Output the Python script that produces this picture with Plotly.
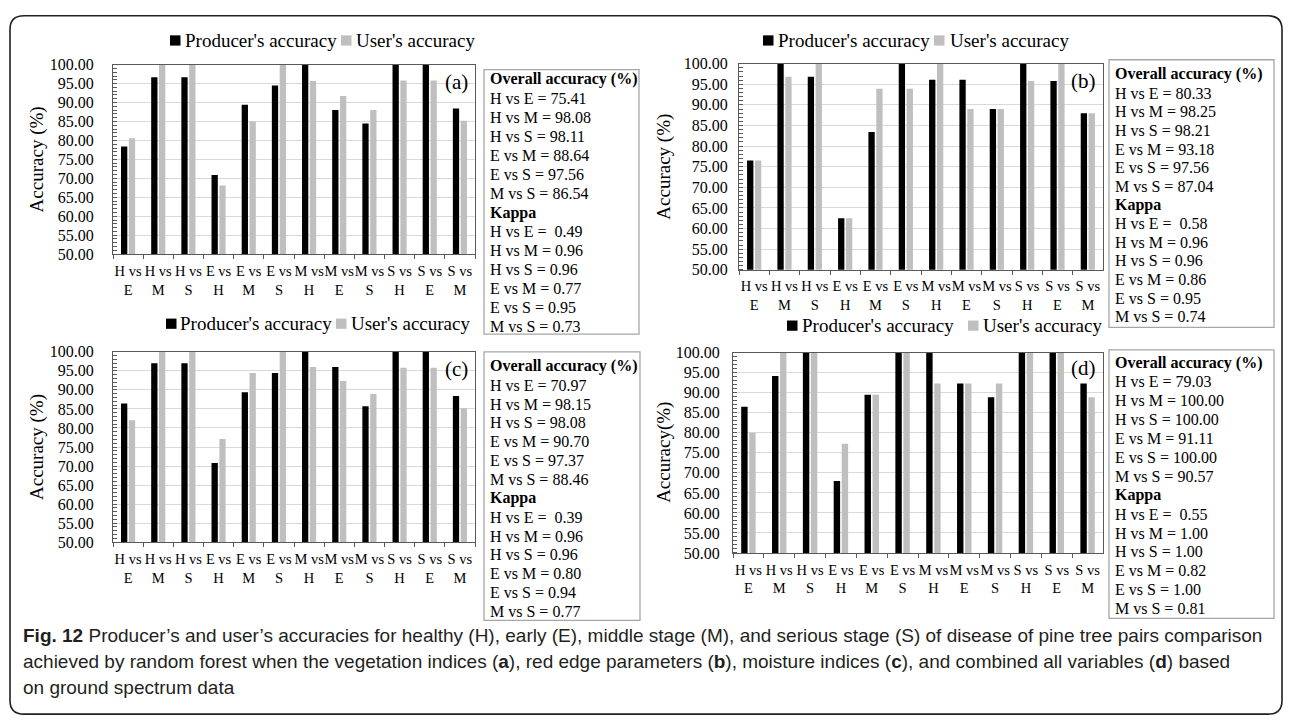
import plotly.graph_objects as go

W, H = 1292, 728
def px(x): return x / W
def py(y): return 1 - y / H

# ---------------- data ----------------
pairs = ["H vs E", "H vs M", "H vs S", "E vs H", "E vs M", "E vs S",
         "M vs H", "M vs E", "M vs S", "S vs H", "S vs E", "S vs M"]

producer_a = [78.4, 96.7, 96.7, 70.9, 89.4, 94.5, 100.0, 88.0, 84.5, 100.0, 100.0, 88.4]
user_a     = [80.6, 100.0, 100.0, 68.1, 85.0, 100.0, 95.7, 91.7, 88.0, 95.8, 95.8, 85.2]
producer_b = [76.5, 100.0, 96.8, 62.5, 83.4, 100.0, 96.1, 96.1, 89.0, 100.0, 95.8, 88.0]
user_b     = [76.5, 96.8, 100.0, 62.5, 93.9, 93.9, 100.0, 89.0, 89.0, 95.8, 100.0, 88.0]
producer_c = [86.4, 97.0, 97.0, 70.8, 89.4, 94.4, 100.0, 96.0, 85.7, 100.0, 100.0, 88.4]
user_c     = [82.0, 100.0, 100.0, 77.1, 94.4, 100.0, 96.0, 92.3, 88.9, 95.8, 95.8, 85.2]
producer_d = [86.5, 94.2, 100.0, 68.0, 89.5, 100.0, 100.0, 92.3, 88.9, 100.0, 100.0, 92.3]
user_d     = [80.0, 100.0, 100.0, 77.3, 89.5, 100.0, 92.3, 92.3, 92.3, 100.0, 100.0, 88.9]

summary_pairs = ["H vs E", "H vs M", "H vs S", "E vs M", "E vs S", "M vs S"]
overall_a = [75.41, 98.08, 98.11, 88.64, 97.56, 86.54]
overall_b = [80.33, 98.25, 98.21, 93.18, 97.56, 87.04]
overall_c = [70.97, 98.15, 98.08, 90.70, 97.37, 88.46]
overall_d = [79.03, 100.00, 100.00, 91.11, 100.00, 90.57]
kappa_a = [0.49, 0.96, 0.96, 0.77, 0.95, 0.73]
kappa_b = [0.58, 0.96, 0.96, 0.86, 0.95, 0.74]
kappa_c = [0.39, 0.96, 0.96, 0.80, 0.94, 0.77]
kappa_d = [0.55, 1.00, 1.00, 0.82, 1.00, 0.81]

y_ticks = [50, 55, 60, 65, 70, 75, 80, 85, 90, 95, 100]
series_names = ["Producer's accuracy", "User's accuracy"]
panel_labels = ["(a)", "(b)", "(c)", "(d)"]
y_titles = ["Accuracy (%)", "Accuracy (%)", "Accuracy (%)", "Accuracy(%)"]

caption_lines = [
    "<b>Fig. 12</b> Producer’s and user’s accuracies for healthy (H), early (E), middle stage (M), and serious stage (S) of disease of pine tree pairs comparison",
    "achieved by random forest when the vegetation indices (<b>a</b>), red edge parameters (<b>b</b>), moisture indices (<b>c</b>), and combined all variables (<b>d</b>) based",
    "on ground spectrum data",
]

# ---------------- layout geometry (pixels) ----------------
SERIF = "Liberation Serif, Times New Roman, serif"
BLACK = "#000000"
GRAY = "#BFBFBF"
SERIES_COLORS = [BLACK, GRAY]

panels = [
    dict(prod=producer_a, user=user_a, ov=overall_a, kp=kappa_a,
         x0=113, x1=475, y0=58, y1=252, lab=(470, 76),
         leg_y=33, leg_sq=(170, 341), leg_tx=(183, 354),
         ytitle_x=37, tls=15, xls=3,
         box=(484, 63, 639, 334), box_y=73, box_dy=19.5),
    dict(prod=producer_b, user=user_b, ov=overall_b, kp=kappa_b,
         x0=739, x1=1103, y0=57, y1=268, lab=(1098, 75),
         leg_y=33, leg_sq=(763, 934), leg_tx=(776, 948),
         ytitle_x=664, tls=7, xls=3,
         box=(1109, 53, 1274, 327), box_y=68, box_dy=19.1),
    dict(prod=producer_c, user=user_c, ov=overall_c, kp=kappa_c,
         x0=113, x1=475, y0=352, y1=547, lab=(470, 370),
         leg_y=323, leg_sq=(166, 336), leg_tx=(178, 349),
         ytitle_x=37, tls=15, xls=3,
         box=(484, 352, 640, 627), box_y=367, box_dy=19.3),
    dict(prod=producer_d, user=user_d, ov=overall_d, kp=kappa_d,
         x0=733, x1=1103, y0=353, y1=558, lab=(1098, 369),
         leg_y=325, leg_sq=(787, 968), leg_tx=(800, 981),
         ytitle_x=664, tls=9, xls=3,
         box=(1109, 350, 1274, 625), box_y=363, box_dy=19.4),
]

fig = go.Figure()
layout = dict(
    width=W, height=H, margin=dict(l=0, r=0, t=0, b=0),
    paper_bgcolor="white", plot_bgcolor="white",
    barmode="group", bargap=0.48, bargroupgap=0.2,
    font=dict(family=SERIF, color="#000", size=16),
    showlegend=False,
)
annotations = []
shapes = []

ticktext = [p.replace(" vs ", " vs<br>") for p in pairs]

for i, p in enumerate(panels):
    n = "" if i == 0 else str(i + 1)
    xa, ya = "x" + n, "y" + n
    fig.add_trace(go.Bar(x=pairs, y=p["prod"], name=series_names[0], marker_color=BLACK,
                         marker_line_width=0, xaxis=xa, yaxis=ya))
    fig.add_trace(go.Bar(x=pairs, y=p["user"], name=series_names[1], marker_color=GRAY,
                         marker_line_width=0, xaxis=xa, yaxis=ya))

    layout["xaxis" + n] = dict(
        domain=[px(p["x0"]), px(p["x1"])], anchor=ya,
        tickmode="array", tickvals=pairs, ticktext=ticktext, tickangle=0,
        ticks="outside", tickson="boundaries", ticklen=4, tickcolor="#595959",
        ticklabelstandoff=p["xls"],
        showline=True, linecolor="#595959", linewidth=1.3, mirror=True,
        tickfont=dict(family=SERIF, size=14.5, color="#000"),
        showgrid=False, fixedrange=True,
    )
    layout["yaxis" + n] = dict(
        domain=[py(p["y1"]), py(p["y0"])], anchor=xa,
        range=[50, 100], tickvals=y_ticks, tickformat=".2f",
        ticks="", ticklabelstandoff=p["tls"],
        showline=True, linecolor="#595959", linewidth=1.3, mirror=True,
        showgrid=True, gridcolor="#D9D9D9", gridwidth=1,
        minor=dict(dtick=1, ticks="inside", ticklen=4, tickcolor="#595959", showgrid=False),
        tickfont=dict(family=SERIF, size=16, color="#000"),
        zeroline=False, fixedrange=True,
    )
    # legend keys (square + label)
    for k in range(2):
        sx = p["leg_sq"][k]
        shapes.append(dict(type="rect", xref="paper", yref="paper",
                           x0=px(sx), x1=px(sx + 10.5), y0=py(p["leg_y"] + 5.5), y1=py(p["leg_y"] - 5),
                           line=dict(width=0), fillcolor=SERIES_COLORS[k]))
        annotations.append(dict(text=series_names[k], x=px(p["leg_tx"][k]), y=py(p["leg_y"]),
                                xref="paper", yref="paper", xanchor="left", yanchor="middle",
                                showarrow=False, font=dict(family=SERIF, size=19, color="#000")))
    # panel label
    annotations.append(dict(text=panel_labels[i], x=px(p["lab"][0]), y=py(p["lab"][1]),
                            xref="paper", yref="paper", xanchor="right", yanchor="middle",
                            showarrow=False, font=dict(family=SERIF, size=21, color="#000")))
    # y-axis title
    annotations.append(dict(text=y_titles[i], x=px(p["ytitle_x"]), y=py((p["y0"] + p["y1"]) / 2),
                            xref="paper", yref="paper", xanchor="center", yanchor="middle",
                            textangle=-90, showarrow=False,
                            font=dict(family=SERIF, size=19, color="#000")))
    # summary box
    bx0, by0, bx1, by1 = p["box"]
    shapes.append(dict(type="rect", xref="paper", yref="paper",
                       x0=px(bx0), x1=px(bx1), y0=py(by1), y1=py(by0),
                       line=dict(color="#A6A6A6", width=1.3), fillcolor="rgba(0,0,0,0)"))
    lines = ["<b>Overall accuracy (%)</b>"]
    lines += [f"{s} = {v:.2f}" for s, v in zip(summary_pairs, p["ov"])]
    lines += ["<b>Kappa</b>"]
    lines += [(f"{s} =\u00a0 {v:.2f}" if j == 0 else f"{s} = {v:.2f}")
              for j, (s, v) in enumerate(zip(summary_pairs, p["kp"]))]
    for j, t in enumerate(lines):
        annotations.append(dict(text=t, x=px(bx0 + 4), y=py(p["box_y"] + j * p["box_dy"]),
                                xref="paper", yref="paper", xanchor="left", yanchor="middle",
                                showarrow=False, font=dict(family=SERIF, size=16, color="#000")))

# caption
for j, t in enumerate(caption_lines):
    annotations.append(dict(text=t, x=px(21), y=py(643 + j * 26.5), xref="paper", yref="paper",
                            xanchor="left", yanchor="middle", showarrow=False,
                            font=dict(family="Liberation Sans, Arial, sans-serif", size=19, color="#231F20")))

# outer rounded frame
r = 14
L, T, R, B = 10, 8, 1282, 723
path = (f"M {px(L)},{py(T + r)} Q {px(L)},{py(T)} {px(L + r)},{py(T)} "
        f"L {px(R - r)},{py(T)} Q {px(R)},{py(T)} {px(R)},{py(T + r)} "
        f"L {px(R)},{py(B - r)} Q {px(R)},{py(B)} {px(R - r)},{py(B)} "
        f"L {px(L + r)},{py(B)} Q {px(L)},{py(B)} {px(L)},{py(B - r)} Z")
shapes.append(dict(type="path", xref="paper", yref="paper", path=path,
                   line=dict(color="#231F20", width=1.6), fillcolor="rgba(0,0,0,0)"))

layout["annotations"] = annotations
layout["shapes"] = shapes
fig.update_layout(**layout)

fig.write_html("out.html", config={"displayModeBar": False},
               post_script="document.body.style.margin='0';")
